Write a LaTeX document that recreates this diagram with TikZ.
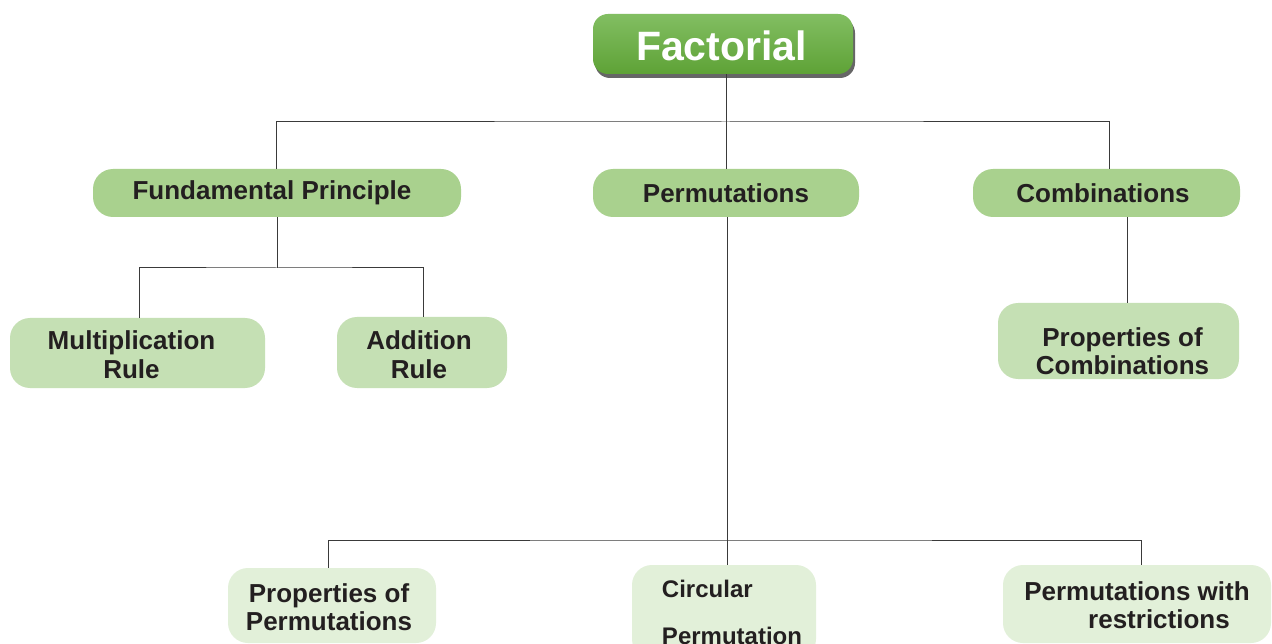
\documentclass[tikz,border=0pt]{standalone}
\usepackage{fontspec}
\setmainfont{Liberation Sans}
\usetikzlibrary{calc}
\definecolor{txt}{HTML}{231F20}
\definecolor{lvA}{HTML}{A9D18E}
\definecolor{lvB}{HTML}{C5E0B4}
\definecolor{lvC}{HTML}{E2F0D9}
\definecolor{gtop}{HTML}{82BE62}
\definecolor{gbot}{HTML}{5EA236}
\definecolor{lnc}{HTML}{3A3A3A}
% two-line text whose last baseline lies #1 above the node centre
\newcommand{\mytb}[2]{\raisebox{#1}[0pt][0pt]{\begin{tabular}[b]{@{}c@{}}#2\end{tabular}}}
\tikzset{
  box/.style={rectangle, rounded corners=20pt, inner sep=0pt, align=center, text=txt,
    font=\fontsize{26}{28}\bfseries\selectfont},
  boxA/.style={box, fill=lvA},
  boxB/.style={box, fill=lvB},
  boxC/.style={box, fill=lvC},
  conn/.style={draw=lnc, line width=1pt}
}
\begin{document}
\begin{tikzpicture}[x=1pt,y=-1pt]
\clip (0,0) rectangle (1272,644);
\fill[white] (0,0) rectangle (1272,644);
% shadow of the top node
\fill[gray!80!black, rounded corners=15pt] (595,18) rectangle (855,78);
\node[rectangle, rounded corners=15pt, top color=gtop, bottom color=gbot, minimum width=260pt, minimum height=60pt,
  inner sep=0pt, text=white, font=\fontsize{41}{44}\bfseries\selectfont] (fact) at (723,44) {\raisebox{-17pt}[0pt][0pt]{\hspace*{-3pt}Factorial}};

\node[boxA, minimum width=368pt, minimum height=48pt] (fp) at (277,193) {\hspace*{-10pt}Fundamental Principle};
\node[boxA, minimum width=266pt, minimum height=48pt] (perm) at (726,193) {Permutations};
\node[boxA, minimum width=267pt, minimum height=48pt] (comb) at (1106.5,193) {\hspace*{-7pt}Combinations};

\node[boxB, minimum width=255pt, minimum height=70pt] (mult) at (137.5,353) {\mytb{-25pt}{\hspace*{-12pt}Multiplication\\\hspace*{-12pt}Rule}};
\node[boxB, minimum width=170pt, minimum height=71pt] (add) at (422,352.5) {\mytb{-25.5pt}{\hspace*{-6pt}Addition\\\hspace*{-6pt}Rule}};
\node[boxB, minimum width=241pt, minimum height=76pt] (pcomb) at (1118.5,341) {\mytb{-34pt}{\hspace*{8pt}Properties of\\\hspace*{8pt}Combinations}};

\node[boxC, minimum width=208pt, minimum height=75pt] (pperm) at (332,605.5) {\mytb{-24.5pt}{\hspace*{-6pt}Properties of\\\hspace*{-6pt}Permutations}};
\node[boxC, minimum width=184pt, minimum height=94pt, align=left,
  font=\fontsize{24}{27}\bfseries\selectfont] (circ) at (724,612) {\hspace*{16pt}Circular\\[20pt]\hspace*{16pt}Permutation};
\node[boxC, minimum width=268pt, minimum height=78pt] (pwr) at (1137,604) {\mytb{-24pt}{Permutations with\\\hspace*{44pt}restrictions}};

% helper coordinates of the connector buses
\coordinate (bus1) at (726,122);
\coordinate (bus2) at (277,268);
\coordinate (bus3) at (727,540);
\coordinate (xa) at (276,0);
\coordinate (xb) at (1109,0);
\coordinate (xc) at (139,0);
\coordinate (xd) at (423,0);
\coordinate (xe) at (1127,0);
\coordinate (xf) at (328,0);
\coordinate (xg) at (1141,0);

\draw[conn] (bus1 |- fact.south) -- (bus1);
\draw[conn] (fp.north -| xa) |- (bus1) -| (comb.north -| xb);
\draw[conn] (bus1) -- (perm.north);

\draw[conn] (fp.south) -- (bus2);
\draw[conn] (mult.north -| xc) |- (bus2) -| (add.north -| xd);

\draw[conn] (comb.south -| xe) -- (pcomb.north -| xe);

\draw[conn] (perm.south -| bus3) -- (bus3);
\draw[conn] (pperm.north -| xf) |- (bus3) -| (pwr.north -| xg);
\draw[conn] (bus3) -- (bus3 |- circ.north);
\end{tikzpicture}
\end{document}
